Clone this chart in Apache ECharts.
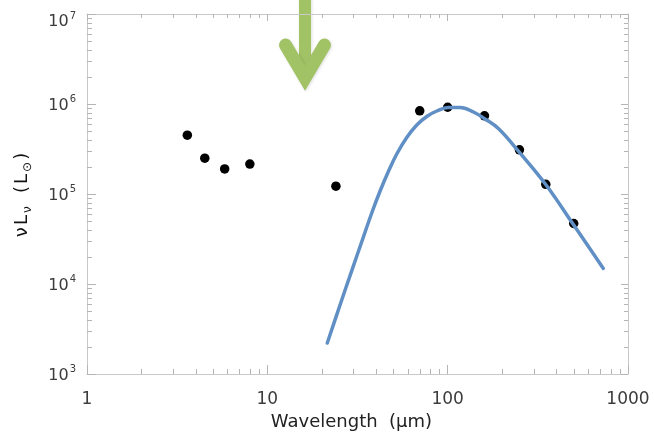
<!DOCTYPE html>
<html>
<head>
<meta charset="utf-8">
<script src="https://cdn.jsdelivr.net/npm/echarts@6/dist/echarts.min.js"></script>
<style>
  html, body { margin: 0; padding: 0; background: #fff; }
  #chart { width: 654px; height: 436px; }
</style>
</head>
<body>
<div id="chart"></div>
<script>
// Broadband photometry: wavelength (µm) and νLν (L☉)
const wavelength = [3.6, 4.5, 5.8, 8.0, 24, 70, 100, 160, 250, 350, 500];
const nuLnu = [4.5e5, 2.5e5, 1.9e5, 2.15e5, 1.22e5, 8.4e5, 9.2e5, 7.4e5, 3.1e5, 1.28e5, 4.7e4];

// Greybody fit to the far-infrared points
const fitWavelength = [21.5, 25.3, 29.4, 34.1, 38.1, 42.2, 46.9, 52.2, 59.3, 67.4, 76.6, 87.0, 100.9, 117.2, 138.9, 161.2, 191.1, 248.9, 351.4, 498, 730];
const fitNuLnu = [2.21e3, 5.84e3, 1.41e4, 3.33e4, 6.31e4, 1.08e5, 1.78e5, 2.78e5, 4.24e5, 5.85e5, 7.26e5, 8.36e5, 9.15e5, 9.15e5, 8.15e5, 6.81e5, 5.34e5, 2.93e5, 1.26e5, 4.58e4, 1.49e4];

// Axis tick labels
const xTickLabels = ['1', '10', '100', '1000'];
const yTickExponents = ['3', '4', '5', '6', '7'];
const xDecades = [1, 10, 100];
const yDecades = [1e3, 1e4, 1e5, 1e6];
const minorSteps = [2, 3, 4, 5, 6, 7, 8, 9];

const FONT = 'DejaVu Sans';
const AXIS_GREY = '#c9c9c9';
const TICK_GREY = '#b5b5b5';
const LABEL_GREY = '#3c3c3c';
const ARROW_GREEN = '#a1c265';

const xMinor = xDecades.flatMap(d => minorSteps.map(m => [m * d, 1e3]));
const yMinor = yDecades.flatMap(d => minorSteps.map(m => [1, m * d]));

const chart = echarts.init(document.getElementById('chart'), null, { renderer: 'canvas' });

function tickLine(x1, y1, x2, y2) {
  return {
    type: 'line',
    shape: { x1, y1, x2, y2 },
    style: { stroke: TICK_GREY, lineWidth: 1 }
  };
}

const axisCommon = {
  type: 'log',
  logBase: 10,
  splitLine: { show: false },
  minorTick: { show: false },
  axisLine: { show: true, lineStyle: { color: AXIS_GREY, width: 1 } },
  axisTick: { show: true, inside: true, length: 9, lineStyle: { color: TICK_GREY, width: 1 } }
};

const arrowShadow = { shadowBlur: 3, shadowColor: 'rgba(0,0,0,0.12)', shadowOffsetX: 1, shadowOffsetY: 1 };

chart.setOption({
  animation: false,
  backgroundColor: '#fff',
  grid: { left: 87, right: 26, top: 14, bottom: 62, containLabel: false },
  xAxis: [
    Object.assign({}, axisCommon, {
      position: 'bottom',
      min: 1, max: 1000,
      name: 'Wavelength  (\u03bcm)',
      nameLocation: 'middle',
      nameGap: 27,
      nameTextStyle: { fontFamily: FONT, fontSize: 18, color: '#222', padding: [0, 12, 0, 0] },
      axisLabel: {
        margin: 17,
        fontFamily: FONT, fontSize: 17, color: LABEL_GREY,
        formatter: v => xTickLabels[Math.round(Math.log10(v))]
      }
    }),
    Object.assign({}, axisCommon, {
      position: 'top',
      min: 1, max: 1000,
      axisTick: { show: true, inside: true, length: 7, lineStyle: { color: TICK_GREY, width: 1 } },
      axisLabel: { show: false }
    })
  ],
  yAxis: [
    Object.assign({}, axisCommon, {
      position: 'left',
      min: 1e3, max: 1e7,
      name: '{m|\u03bd}{m|L}{s|\u03bd}{m|  (}{m|L}{s|\u2299}{m|)}',
      nameLocation: 'middle',
      nameGap: 53,
      nameRotate: 90,
      nameTextStyle: {
        rich: {
          m: { fontFamily: FONT, fontSize: 18, color: '#111', verticalAlign: 'bottom', padding: [0, 2, 3, 0] },
          s: { fontFamily: FONT, fontSize: 12, color: '#111', verticalAlign: 'bottom', padding: [0, 2, 0, 0] }
        }
      },
      axisLabel: {
        margin: 11,
        formatter: v => {
          const k = Math.round(Math.log10(v)) - 3;
          // the top label sits just below the frame corner
          const top = k === yTickExponents.length - 1;
          return top
            ? '{nt|10}{e|' + yTickExponents[k] + '}'
            : '{n|10}{e|' + yTickExponents[k] + '}';
        },
        rich: {
          n: { fontFamily: FONT, fontSize: 16, color: LABEL_GREY, verticalAlign: 'bottom' },
          nt: { fontFamily: FONT, fontSize: 16, color: LABEL_GREY, verticalAlign: 'bottom', padding: [16, 0, 0, 0] },
          e: { fontFamily: FONT, fontSize: 10, color: LABEL_GREY, verticalAlign: 'bottom', padding: [0, 0, 9, 1] }
        }
      }
    }),
    Object.assign({}, axisCommon, {
      position: 'right',
      min: 1e3, max: 1e7,
      axisTick: { show: true, inside: true, length: 7, lineStyle: { color: TICK_GREY, width: 1 } },
      axisLabel: { show: false }
    })
  ],
  graphic: [
    {
      type: 'group',
      z: 100,
      children: [
        {
          type: 'line',
          shape: { x1: 305, y1: -10, x2: 305, y2: 70 },
          style: Object.assign({ stroke: ARROW_GREEN, lineWidth: 12 }, arrowShadow)
        },
        {
          type: 'polyline',
          shape: { points: [[285.5, 45], [305, 78], [324.5, 45]] },
          style: Object.assign({
            stroke: ARROW_GREEN, lineWidth: 13, lineCap: 'round', lineJoin: 'miter', fill: null
          }, arrowShadow)
        }
      ]
    }
  ],
  series: [
    {
      // minor ticks along bottom and top edges
      type: 'custom',
      xAxisIndex: 0, yAxisIndex: 0,
      silent: true,
      z: 1,
      data: xMinor,
      renderItem: (params, api) => {
        const cs = params.coordSys;
        const x = Math.round(api.coord([api.value(0), 1e3])[0]) + 0.5;
        const bottom = cs.y + cs.height;
        return {
          type: 'group',
          children: [tickLine(x, bottom, x, bottom - 5), tickLine(x, cs.y, x, cs.y + 4)]
        };
      }
    },
    {
      // minor ticks along left and right edges
      type: 'custom',
      xAxisIndex: 0, yAxisIndex: 0,
      silent: true,
      z: 1,
      data: yMinor,
      renderItem: (params, api) => {
        const cs = params.coordSys;
        const y = Math.round(api.coord([1, api.value(1)])[1]) + 0.5;
        const right = cs.x + cs.width;
        return {
          type: 'group',
          children: [tickLine(cs.x, y, cs.x + 5, y), tickLine(right, y, right - 4, y)]
        };
      }
    },
    {
      type: 'scatter',
      xAxisIndex: 0, yAxisIndex: 0,
      data: wavelength.map((w, i) => [w, nuLnu[i]]),
      symbol: 'circle',
      symbolSize: 9.5,
      itemStyle: { color: '#000', opacity: 1 },
      z: 2
    },
    {
      type: 'line',
      xAxisIndex: 0, yAxisIndex: 0,
      data: fitWavelength.map((w, i) => [w, fitNuLnu[i]]),
      showSymbol: false,
      symbol: 'none',
      smooth: 0.4,
      lineStyle: { color: '#5f8fc4', width: 3.5, cap: 'round' },
      z: 3
    }
  ]
});
</script>
</body>
</html>
